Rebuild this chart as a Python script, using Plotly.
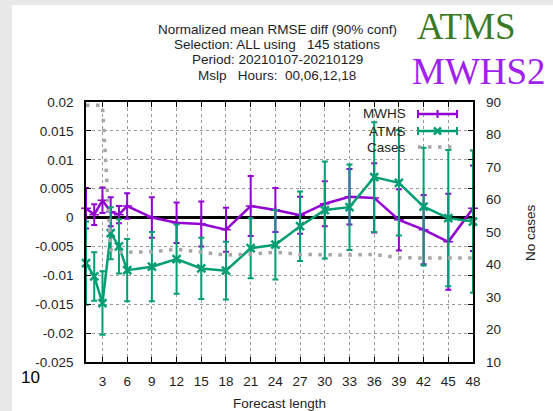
import plotly.graph_objects as go

# ---------------- data ----------------
hours = [1, 2, 3, 4, 5, 6, 9, 12, 15, 18, 21, 24, 27, 30, 33, 36, 39, 42, 45, 48]

mwhs = [0.0016, 0.0005, 0.0030, 0.0010, 0.0005, 0.0020, 0.0000, -0.0009, -0.0011, -0.0021,
        0.0020, 0.0013, 0.0004, 0.0024, 0.0036, 0.0034, -0.0004, -0.0021, -0.0042, 0.0016]
mwhs_err = [0.0035, 0.0018, 0.0022, 0.0025, 0.0015, 0.0022, 0.0035, 0.0035, 0.0039, 0.0038,
            0.0052, 0.0038, 0.0032, 0.0039, 0.0048, 0.0060, 0.0053, 0.0060, 0.0083, 0.0074]

atms = [-0.0079, -0.0102, -0.0148, -0.0027, -0.0050, -0.0091, -0.0085, -0.0072, -0.0088, -0.0092,
        -0.0053, -0.0047, -0.0015, 0.0013, 0.0018, 0.0070, 0.0060, 0.0019, -0.0001, -0.0007]
atms_err = [0.0072, 0.0042, 0.0055, 0.0045, 0.0047, 0.0054, 0.0060, 0.0060, 0.0053, 0.0050,
            0.0052, 0.0060, 0.0060, 0.0084, 0.0074, 0.0095, 0.0091, 0.0102, 0.0118, 0.0123]

cases = [89, 89, 89, 44.5, 43.8, 43.8, 43.9, 44.7, 43.9, 42.9,
         43.2, 43.8, 43.1, 42.9, 42.9, 43.1, 42.1, 42.0, 42.0, 42.0]

x_ticks = [3, 6, 9, 12, 15, 18, 21, 24, 27, 30, 33, 36, 39, 42, 45, 48]
y_ticks = [0.02, 0.015, 0.01, 0.005, 0, -0.005, -0.01, -0.015, -0.02, -0.025]
y_ticktext = ["0.02", "0.015", "0.01", "0.005", "0", "-0.005", "-0.01", "-0.015", "-0.02", "-0.025"]
y2_ticks = [10, 20, 30, 40, 50, 60, 70, 80, 90]

title_lines = ["Normalized mean RMSE diff (90% conf)",
               "Selection: ALL using   145 stations",
               "Period: 20210107-20210129",
               "Mslp   Hours:  00,06,12,18"]

PURPLE = "#9400D3"
GREEN = "#009E73"
GRAY = "#A6A6A6"
FONT = "Liberation Sans, Arial, sans-serif"
SERIF = "Liberation Serif, Times New Roman, serif"
TXT = "#1e1e1e"

W, H = 553, 411
L, R, T, B = 86, 473, 102, 362  # plot area in pixels


def fx(px):
    return (px - L) / (R - L)


def fy(py):
    return (B - py) / (B - T)


fig = go.Figure()

fig.add_trace(go.Scatter(
    x=hours, y=mwhs, name="MWHS", mode="lines+markers",
    line=dict(color=PURPLE, width=2.5),
    marker=dict(symbol="cross-thin", size=7, line=dict(color=PURPLE, width=1.5)),
    error_y=dict(type="data", array=mwhs_err, color=PURPLE, thickness=2, width=3),
    cliponaxis=False, showlegend=False))

fig.add_trace(go.Scatter(
    x=hours, y=atms, name="ATMS", mode="lines+markers",
    line=dict(color=GREEN, width=2.5),
    marker=dict(symbol="x-thin", size=8, line=dict(color=GREEN, width=2.5)),
    error_y=dict(type="data", array=atms_err, color=GREEN, thickness=2, width=3),
    cliponaxis=False, showlegend=False))

fig.add_trace(go.Scatter(
    x=hours, y=cases, name="Cases", mode="lines", yaxis="y2",
    line=dict(color=GRAY, width=3.5, dash="3.5px,6.5px"),
    cliponaxis=False, showlegend=False))

axis_common = dict(showline=True, linecolor="black", linewidth=1.5, automargin=False,
                   ticks="inside", ticklen=5, tickcolor="black", tickwidth=1,
                   tickfont=dict(family=FONT, size=13.5, color=TXT))

fig.update_layout(
    width=W, height=H,
    margin=dict(l=L, r=W - R, t=T, b=H - B, pad=0, autoexpand=False),
    paper_bgcolor="white", plot_bgcolor="white",
    font=dict(family=FONT, size=13.5, color=TXT),
    xaxis=dict(range=[1, 48], tickvals=x_ticks, mirror="ticks",
               showgrid=True, gridcolor="#9a9a9a", griddash="dot", gridwidth=1,
               zeroline=False, ticklabelstandoff=6,
               title=dict(text="Forecast length", font=dict(size=13.5, color=TXT), standoff=12),
               **axis_common),
    yaxis=dict(range=[-0.025, 0.02], tickvals=y_ticks, ticktext=y_ticktext, mirror="ticks",
               showgrid=True, gridcolor="#9a9a9a", griddash="dot", gridwidth=1,
               zeroline=True, zerolinecolor="black", zerolinewidth=3,
               ticklabelstandoff=8, **axis_common),
    yaxis2=dict(range=[10, 90], tickvals=y2_ticks, overlaying="y", side="right",
                showgrid=False, zeroline=False, showline=False, ticks="",
                ticklabelstandoff=12, automargin=False,
                tickfont=dict(family=FONT, size=13.5, color=TXT)),
)

shapes = []
annotations = []

# gray page border (top and left bands)
shapes.append(dict(type="rect", xref="paper", yref="paper", layer="below",
                   x0=fx(0), x1=fx(12), y0=fy(H), y1=fy(0),
                   fillcolor="#E8E8E8", line=dict(width=0)))
shapes.append(dict(type="rect", xref="paper", yref="paper", layer="below",
                   x0=fx(0), x1=fx(W), y0=fy(5), y1=fy(0),
                   fillcolor="#E8E8E8", line=dict(width=0)))

# title block
for i, line in enumerate(title_lines):
    annotations.append(dict(text=line, xref="paper", yref="paper", x=fx(277), y=fy(29 + i * 15.4),
                            xanchor="center", yanchor="middle", showarrow=False,
                            font=dict(family=FONT, size=13.5, color=TXT)))

# big labels
annotations.append(dict(text="ATMS", xref="paper", yref="paper", x=fx(415), y=fy(27),
                        xanchor="left", yanchor="middle", showarrow=False,
                        font=dict(family=SERIF, size=37, color="#3B7A24")))
annotations.append(dict(text="MWHS2", xref="paper", yref="paper", x=fx(410), y=fy(71),
                        xanchor="left", yanchor="middle", showarrow=False,
                        font=dict(family=SERIF, size=37, color="#A020F0")))

# right axis title
annotations.append(dict(text="No cases", xref="paper", yref="paper", x=fx(530), y=fy(233),
                        xanchor="center", yanchor="middle", textangle=-90, showarrow=False,
                        font=dict(family=FONT, size=13.5, color=TXT)))

# stray "10"
annotations.append(dict(text="10", xref="paper", yref="paper", x=fx(30), y=fy(377),
                        xanchor="center", yanchor="middle", showarrow=False,
                        font=dict(family=FONT, size=17, color="black")))

# legend (gnuplot style: text right aligned, sample to the right)
leg_items = [("MWHS", PURPLE, 114), ("ATMS", GREEN, 131), ("Cases", GRAY, 147)]
lx0, lx1 = 418, 457
for name, col, py in leg_items:
    annotations.append(dict(text=name, xref="paper", yref="paper", x=fx(408), y=fy(py),
                            xanchor="right", yanchor="middle", showarrow=False,
                            font=dict(family=FONT, size=13.5, color=TXT)))
    if name == "Cases":
        shapes.append(dict(type="line", xref="paper", yref="paper",
                           x0=fx(lx0), x1=fx(lx1), y0=fy(py), y1=fy(py),
                           line=dict(color=GRAY, width=3.5, dash="3.5px,6.5px")))
        continue
    shapes.append(dict(type="line", xref="paper", yref="paper",
                       x0=fx(lx0), x1=fx(lx1), y0=fy(py), y1=fy(py),
                       line=dict(color=col, width=2.5)))
    for ex in (lx0, lx1):
        shapes.append(dict(type="line", xref="paper", yref="paper",
                           x0=fx(ex), x1=fx(ex), y0=fy(py - 4), y1=fy(py + 4),
                           line=dict(color=col, width=2)))
    mx = (lx0 + lx1) / 2
    if name == "MWHS":
        shapes.append(dict(type="line", xref="paper", yref="paper",
                           x0=fx(mx), x1=fx(mx), y0=fy(py - 4), y1=fy(py + 4),
                           line=dict(color=col, width=2)))
    else:
        shapes.append(dict(type="line", xref="paper", yref="paper",
                           x0=fx(mx - 3.5), x1=fx(mx + 3.5), y0=fy(py - 3.5), y1=fy(py + 3.5),
                           line=dict(color=col, width=2.5)))
        shapes.append(dict(type="line", xref="paper", yref="paper",
                           x0=fx(mx - 3.5), x1=fx(mx + 3.5), y0=fy(py + 3.5), y1=fy(py - 3.5),
                           line=dict(color=col, width=2.5)))

fig.update_layout(shapes=shapes, annotations=annotations)

fig.write_html("out.html", config={"displayModeBar": False},
               post_script="document.body.style.margin='0px';"
                           "document.body.style.overflow='hidden';")
